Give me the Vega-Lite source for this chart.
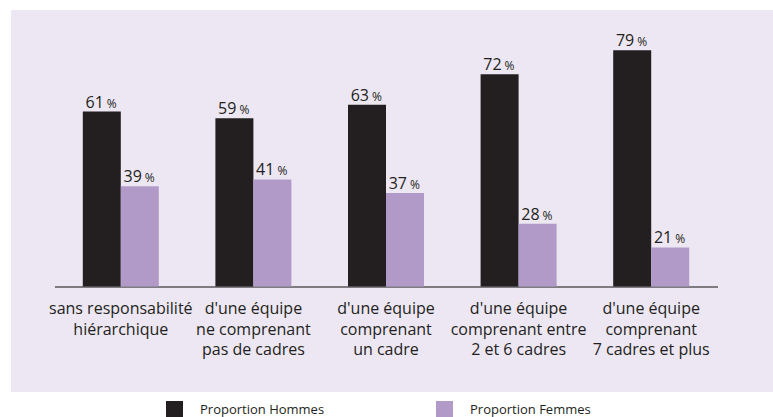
{
  "$schema": "https://vega.github.io/schema/vega-lite/v6.json",
  "width": 762,
  "height": 382,
  "autosize": {"type": "none"},
  "padding": {"left": 11, "top": 10, "right": 0, "bottom": 25},
  "background": "white",
  "config": {"view": {"fill": "#ede7f3", "stroke": null}, "font": "Open Sans"},
  "data": {
    "values": [
      {"categorie": "sans responsabilité|hiérarchique", "serie": "Proportion Hommes", "valeur": 61},
      {"categorie": "sans responsabilité|hiérarchique", "serie": "Proportion Femmes", "valeur": 39},
      {"categorie": "d'une équipe|ne comprenant|pas de cadres", "serie": "Proportion Hommes", "valeur": 59},
      {"categorie": "d'une équipe|ne comprenant|pas de cadres", "serie": "Proportion Femmes", "valeur": 41},
      {"categorie": "d'une équipe|comprenant|un cadre", "serie": "Proportion Hommes", "valeur": 63},
      {"categorie": "d'une équipe|comprenant|un cadre", "serie": "Proportion Femmes", "valeur": 37},
      {"categorie": "d'une équipe|comprenant entre|2 et 6 cadres", "serie": "Proportion Hommes", "valeur": 72},
      {"categorie": "d'une équipe|comprenant entre|2 et 6 cadres", "serie": "Proportion Femmes", "valeur": 28},
      {"categorie": "d'une équipe|comprenant|7 cadres et plus", "serie": "Proportion Hommes", "valeur": 79},
      {"categorie": "d'une équipe|comprenant|7 cadres et plus", "serie": "Proportion Femmes", "valeur": 21}
    ]
  },
  "encoding": {
    "x": {
      "field": "categorie",
      "type": "nominal",
      "sort": null,
      "scale": {"range": [43.5, 706.5], "paddingInner": 0.4268, "paddingOuter": 0.2134},
      "axis": {
        "orient": "bottom",
        "offset": -105.5,
        "title": null,
        "ticks": false,
        "domainColor": "#58585a",
        "domainWidth": 1.5,
        "labelAngle": 0,
        "labelFontSize": 16,
        "labelColor": "#231f20",
        "labelPadding": 14,
        "labelLineHeight": 20.5,
        "labelLimit": 0,
        "labelExpr": "split(datum.label, '|')"
      }
    },
    "xOffset": {
      "field": "serie",
      "type": "nominal",
      "sort": ["Proportion Hommes", "Proportion Femmes"],
      "scale": {"paddingInner": 0, "paddingOuter": 0}
    },
    "y": {
      "field": "valeur",
      "type": "quantitative",
      "scale": {"domain": [9.5, 90], "range": [276.5, 3], "zero": false, "nice": false},
      "axis": null
    }
  },
  "layer": [
    {
      "mark": {"type": "bar"},
      "encoding": {
        "y2": {"datum": 9.5},
        "color": {
          "field": "serie",
          "type": "nominal",
          "sort": ["Proportion Hommes", "Proportion Femmes"],
          "scale": {"domain": ["Proportion Hommes", "Proportion Femmes"], "range": ["#231f20", "#b19ac8"]},
          "legend": {
            "orient": "none",
            "legendX": 155,
            "legendY": 391,
            "direction": "horizontal",
            "columns": 2,
            "title": null,
            "padding": 0,
            "symbolType": "square",
            "symbolSize": 289,
            "symbolStrokeWidth": 0,
            "symbolOpacity": 1,
            "labelFontSize": 13,
            "labelColor": "#231f20",
            "labelOffset": 17,
            "columnPadding": 111,
            "labelLimit": 0
          }
        }
      }
    },
    {
      "mark": {"type": "text", "align": "right", "baseline": "alphabetic", "dx": 2, "dy": -4, "fontSize": 16, "color": "#231f20"},
      "encoding": {"text": {"field": "valeur", "type": "quantitative"}}
    },
    {
      "mark": {"type": "text", "align": "left", "baseline": "alphabetic", "dx": 5, "dy": -4, "fontSize": 12, "color": "#231f20"},
      "encoding": {"text": {"value": "%"}}
    }
  ]
}
